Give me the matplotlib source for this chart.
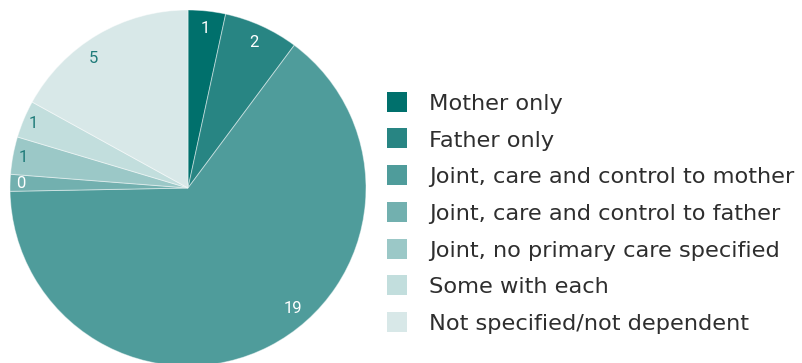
import matplotlib
matplotlib.use("Agg")
import matplotlib.pyplot as plt
from matplotlib.patches import Rectangle
import numpy as np

# Living arrangements of dependent children
categories = [
    "Mother only",
    "Father only",
    "Joint, care and control to mother",
    "Joint, care and control to father",
    "Joint, no primary care specified",
    "Some with each",
    "Not specified/not dependent",
]
values = [1, 2, 19, 0.45, 1, 1, 5]
colors = ["#00706c", "#288583", "#4f9c9b", "#72b0af", "#9bc8c7", "#c2dedd", "#d8e8e8"]
label_colors = ["white", "white", "white", "white", "#1f7b79", "#1f7b79", "#1f7b79"]
# where along each wedge (from its clockwise start) the value label sits
label_frac = [0.5, 0.5, 0.44, 0.5, 0.5, 0.5, 0.41]
label_radius = [0.9, 0.9, 0.9, 0.94, 0.94, 0.94, 0.9]

W, H = 802, 363
fig = plt.figure(figsize=(W / 100, H / 100), dpi=100)
fig.patch.set_facecolor("white")

# pie axes: centre at (188, 188) px from top-left, radius 178 px
cx, cy, r = 188, 188, 178
ax = fig.add_axes([(cx - r) / W, (H - cy - r) / H, 2 * r / W, 2 * r / H])
ax.axis("off")

wedges, _ = ax.pie(
    values,
    colors=colors,
    startangle=90,
    counterclock=False,
    radius=1.0,
    wedgeprops=dict(edgecolor=(1, 1, 1, 0.45), linewidth=0.7),
)
ax.set_xlim(-1, 1)
ax.set_ylim(-1, 1)
ax.set_aspect("auto")

for w, v, fc, fr, rr in zip(wedges, values, label_colors, label_frac, label_radius):
    ang = np.deg2rad(w.theta2 - fr * (w.theta2 - w.theta1))
    ax.text(rr * np.cos(ang), rr * np.sin(ang), f"{v:.0f}",
            ha="center", va="center", color=fc, fontsize=12, family="Roboto")

# legend drawn in pixel coordinates
box_x, box_size = 387, 20
first_center, step = 101.7, 36.7
text_x = 429
for i, (lab, col) in enumerate(zip(categories, colors)):
    yc = first_center + i * step
    fig.add_artist(Rectangle(((box_x) / W, (H - yc - box_size / 2) / H),
                             box_size / W, box_size / H,
                             transform=fig.transFigure, facecolor=col, edgecolor="none"))
    fig.text(text_x / W, (H - yc - 8.2) / H, lab, ha="left", va="baseline",
             fontsize=16.2, color="#2e2e2e", family="DejaVu Sans")

fig.savefig("out.png", dpi=100, facecolor="white")
